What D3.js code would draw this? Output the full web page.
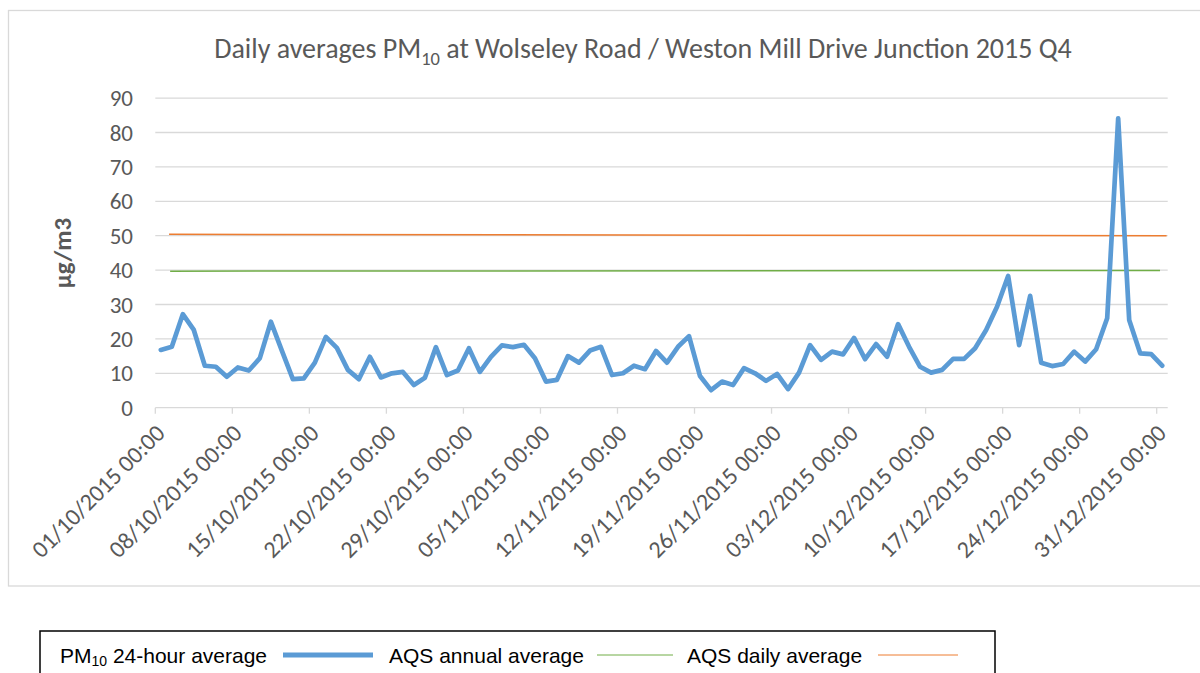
<!DOCTYPE html>
<html>
<head>
<meta charset="utf-8">
<script src="https://cdn.jsdelivr.net/npm/d3@7"></script>
<style>
html,body{margin:0;padding:0;background:#fff;}
svg{display:block;}
</style>
</head>
<body>
<svg id="chart" width="1200" height="673"></svg>
<script>
// ---- data ----
const tickLabels = ["01/10/2015 00:00","08/10/2015 00:00","15/10/2015 00:00","22/10/2015 00:00","29/10/2015 00:00","05/11/2015 00:00","12/11/2015 00:00","19/11/2015 00:00","26/11/2015 00:00","03/12/2015 00:00","10/12/2015 00:00","17/12/2015 00:00","24/12/2015 00:00","31/12/2015 00:00"];
const tickDays = [0,7,14,21,28,35,42,49,56,63,70,77,84,91];
const yTicks = [0,10,20,30,40,50,60,70,80,90];
// PM10 24-hour averages, one per day 01/10/2015 .. 31/12/2015
const pm10 = [16.8,17.7,27.2,22.6,12.2,11.9,9.0,11.7,10.8,14.4,
  25.0,16.6,8.3,8.5,13.1,20.6,17.4,11.0,8.3,14.8,
  8.8,10.0,10.4,6.6,8.7,17.6,9.5,10.8,17.3,10.4,
  14.8,18.1,17.6,18.3,14.4,7.6,8.1,15.0,13.1,16.6,
  17.7,9.5,10.0,12.2,11.2,16.5,13.1,17.7,20.8,9.2,
  5.1,7.6,6.6,11.5,10.0,7.8,9.8,5.4,10.2,18.2,
  13.9,16.3,15.5,20.3,14.1,18.5,14.8,24.3,17.7,11.9,
  10.2,11.0,14.2,14.2,17.3,22.6,29.4,38.3,18.2,32.5,
  13.1,12.1,12.7,16.3,13.4,17.0,26.0,84.1,25.5,15.8,
  15.6,12.2];
const annualDays = [1.35, 91.3];
const annualVals = [39.7, 39.9];
const dailyDays = [1.25, 91.9];
const dailyVals = [50.4, 50.0];
const legendLabels = ["PM10 24-hour average","AQS annual average","AQS daily average"];
const colors = {pm:"#5B9BD5", annual:"#70AD47", daily:"#ED7D31", grid:"#D9D9D9", text:"#595959"};

// ---- chart ----
const svg = d3.select("#chart");
const fontMain = "Carlito, Lato, 'Open Sans', sans-serif";

// outer chart border
svg.append("rect").attr("x",8.5).attr("y",10.5).attr("width",1200).attr("height",575.5)
  .attr("fill","none").attr("stroke","#D9D9D9").attr("stroke-width",1.3);

const x = d3.scaleLinear().domain([0,92]).range([155.3,1167.7]);
const y = d3.scaleLinear().domain([0,90]).range([407.7,98.1]);

// gridlines
svg.append("g").selectAll("line").data(yTicks).join("line")
  .attr("x1",x(0)).attr("x2",x(92))
  .attr("y1",d=>y(d)).attr("y2",d=>y(d))
  .attr("stroke",colors.grid).attr("stroke-width",1.3);

// y tick labels
svg.append("g").selectAll("text").data(yTicks).join("text")
  .attr("x",133).attr("y",d=>y(d)).attr("dy","0.35em")
  .attr("text-anchor","end").attr("fill",colors.text)
  .style("font-family",fontMain).style("font-size","23px")
  .text(d=>d);

// x axis ticks
const xg = svg.append("g");
xg.selectAll("line").data(tickDays).join("line")
  .attr("x1",d=>x(d)).attr("x2",d=>x(d))
  .attr("y1",y(0)).attr("y2",y(0)+6)
  .attr("stroke",colors.grid).attr("stroke-width",1.3);
xg.selectAll("text").data(tickDays).join("text")
  .attr("transform",d=>`translate(${x(d)+5},${y(0)+21}) rotate(-45)`)
  .attr("text-anchor","end").attr("dy","0.35em")
  .attr("fill",colors.text)
  .style("font-family",fontMain).style("font-size","24px")
  .text((d,i)=>tickLabels[i]);

// y axis title
svg.append("text")
  .attr("transform","translate(71,253) rotate(-90)")
  .attr("text-anchor","middle").attr("fill",colors.text)
  .style("font-family",fontMain).style("font-size","25px").style("font-weight","bold")
  .text("µg/m3");

// title
const title = svg.append("text").attr("x",643).attr("y",58).attr("text-anchor","middle")
  .attr("fill",colors.text).style("font-family",fontMain).style("font-size","28px");
title.append("tspan").text("Daily averages PM");
title.append("tspan").attr("dy",7).style("font-size","18.5px").text("10");
title.append("tspan").attr("dy",-7).text(" at Wolseley Road / Weston Mill Drive Junction 2015 Q4");

// reference lines
const line2 = d3.line().x(d=>x(d[0])).y(d=>y(d[1]));
svg.append("path").datum(annualDays.map((d,i)=>[d,annualVals[i]]))
  .attr("d",line2).attr("fill","none").attr("stroke",colors.annual).attr("stroke-width",1.5);
svg.append("path").datum(dailyDays.map((d,i)=>[d,dailyVals[i]]))
  .attr("d",line2).attr("fill","none").attr("stroke",colors.daily).attr("stroke-width",1.5);

// PM10 line
const pmLine = d3.line().x((d,i)=>x(i+0.5)).y(d=>y(d));
svg.append("path").datum(pm10).attr("d",pmLine)
  .attr("fill","none").attr("stroke",colors.pm).attr("stroke-width",4.7)
  .attr("stroke-linejoin","round").attr("stroke-linecap","round");

// legend
const lg = svg.append("g");
lg.append("rect").attr("x",40).attr("y",631).attr("width",955).attr("height",60)
  .attr("fill","#fff").attr("stroke","#000").attr("stroke-width",1.5);
const legFont = "'Liberation Sans', Arial, sans-serif";
const t1 = lg.append("text").attr("x",60).attr("y",663).style("font-family",legFont).style("font-size","21px").attr("fill","#000");
t1.append("tspan").text("PM");
t1.append("tspan").style("font-size","14px").attr("dy",3).text("10");
t1.append("tspan").attr("dy",-3).text(" 24-hour average");
lg.append("line").attr("x1",283).attr("x2",373).attr("y1",655).attr("y2",655).attr("stroke",colors.pm).attr("stroke-width",5);
lg.append("text").attr("x",389).attr("y",663).style("font-family",legFont).style("font-size","21px").text(legendLabels[1]);
lg.append("line").attr("x1",597).attr("x2",673).attr("y1",655).attr("y2",655).attr("stroke",colors.annual).attr("stroke-width",1);
lg.append("text").attr("x",687).attr("y",663).style("font-family",legFont).style("font-size","21px").text(legendLabels[2]);
lg.append("line").attr("x1",878).attr("x2",958).attr("y1",655).attr("y2",655).attr("stroke",colors.daily).attr("stroke-width",1);
</script>
</body>
</html>
